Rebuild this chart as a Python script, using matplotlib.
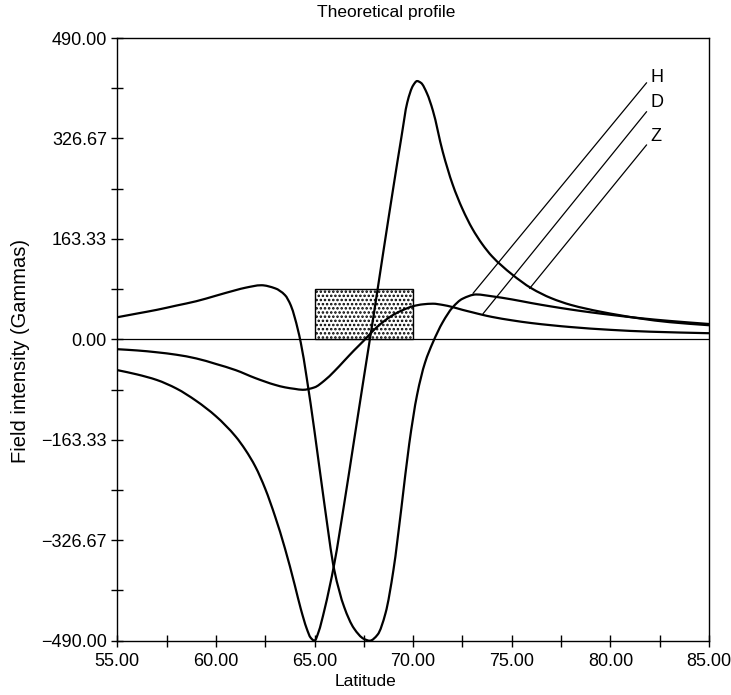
import matplotlib
matplotlib.use("Agg")
import numpy as np
import matplotlib.pyplot as plt
from matplotlib.patches import Rectangle, PathPatch
from matplotlib.path import Path

plt.rcParams['font.family'] = ['Liberation Sans', 'DejaVu Sans']
plt.rcParams['hatch.linewidth'] = 1.2

# ---------------- data ----------------
z_lat = [55, 56, 57, 58, 59, 60, 61, 61.5, 62, 62.5, 63, 63.5, 64, 64.3, 64.6, 64.8,
         65.0, 65.2, 65.5, 66.0, 66.5, 67.0, 67.5, 68.0, 68.5, 69.0, 69.4, 69.7, 70.0,
         70.2, 70.4, 70.7, 71.0, 71.5, 72.0, 72.5, 73.0, 73.5, 74.0, 75.0, 76.0, 77.0,
         78.0, 79.5, 81.5, 83.0, 85.0]
z_val = [-50, -57, -66, -80, -100, -125, -158, -180, -207, -243, -288, -340, -400, -438,
         -470, -485, -490, -476, -440, -365, -268, -165, -62, 40, 145, 248, 328, 385, 413,
         420, 417, 400, 372, 305, 252, 212, 180, 155, 135, 106, 83, 67, 56, 45, 34, 28, 23]

h_lat = [55, 56, 57, 58, 59, 60, 61, 61.5, 62.3, 63, 63.5, 63.8, 64.0, 64.3, 64.6,
         65.0, 65.5, 66.0, 66.5, 67.0, 67.5, 67.8, 68.2, 68.6, 69.0, 69.4, 69.8, 70.2,
         70.6, 71.0, 71.5, 72.0, 72.5, 73.2, 74.0, 75.0, 76.0, 77.0, 78.0, 79.0,
         80.0, 81.5, 83.0, 85.0]
h_val = [36, 42, 48, 55, 62, 71, 80, 84, 88, 83, 72, 55, 35, -5, -62, -150, -268,
         -375, -435, -470, -487, -490, -480, -445, -375, -275, -170, -90, -38, -5, 28, 52,
         66, 73, 70, 65, 59, 53.5, 48.5, 44, 40, 34.5, 30, 25]

d_lat = [55, 56, 57, 58, 59, 60, 61, 62, 63, 63.5, 64.0, 64.4, 65.0, 65.5, 66.0, 66.5,
         67.0, 67.5, 68.0, 68.5, 69.0, 69.5, 70.0, 70.5, 71.0, 71.5, 72.0, 72.5, 73.0,
         73.5, 74.0, 75.0, 76.0, 77.0, 78.0, 80.0, 82.0, 85.0]
d_val = [-16, -18, -21, -25, -31, -40, -50, -63, -74, -78, -80.5, -82, -78, -67, -52, -35,
         -18, -2, 15, 29, 40, 48, 54, 57, 58, 56, 52.5, 48, 44, 40, 36.5, 31, 26.5, 23, 20,
         15.5, 12.5, 10]

# body (shaded rectangle)
body_lat = [65.0, 70.0]
body_top = 81.67

# labels with leader lines
label_names = ['H', 'D', 'Z']
leader_lat_start = [81.83, 81.83, 81.83]
leader_val_start = [417, 370, 316]
leader_lat_end = [73.04, 73.55, 75.91]
leader_val_end = [75, 42, 83]
label_val = [425, 385, 330]

x_major = [55, 60, 65, 70, 75, 80, 85]
x_minor = [57.5, 62.5, 67.5, 72.5, 77.5, 82.5]
y_major = [-490, -326.67, -163.33, 0, 163.33, 326.67, 490]
y_major_labels = ['\u2212490.00', '\u2212326.67', '\u2212163.33', '0.00', '163.33', '326.67', '490.00']
y_minor = [-408.33, -245, -81.67, 81.67, 245, 408.33]


def smooth_curve_path(x, y):
    """Monotone cubic (PCHIP-style) Bezier path running through every read point."""
    x = np.asarray(x, float)
    y = np.asarray(y, float)
    h = np.diff(x)
    delta = np.diff(y) / h
    n = len(x)
    d = np.zeros(n)
    d[0] = delta[0]
    d[-1] = delta[-1]
    for k in range(1, n - 1):
        if delta[k - 1] * delta[k] <= 0:
            d[k] = 0.0
        else:
            w1 = 2 * h[k] + h[k - 1]
            w2 = h[k] + 2 * h[k - 1]
            d[k] = (w1 + w2) / (w1 / delta[k - 1] + w2 / delta[k])
    verts = [(x[0], y[0])]
    codes = [Path.MOVETO]
    for k in range(n - 1):
        verts += [(x[k] + h[k] / 3, y[k] + d[k] * h[k] / 3),
                  (x[k + 1] - h[k] / 3, y[k + 1] - d[k + 1] * h[k] / 3),
                  (x[k + 1], y[k + 1])]
        codes += [Path.CURVE4] * 3
    return Path(verts, codes)


# ---------------- figure ----------------
fig = plt.figure(figsize=(7.31, 6.95), dpi=100)
ax = fig.add_axes([0.1605, 0.0781, 0.8094, 0.8672])
ax.set_xlim(55, 85)
ax.set_ylim(-490, 490)

ax.axhline(0, color='black', lw=0.9, zorder=1)
ax.add_patch(Rectangle((body_lat[0], 0), body_lat[1] - body_lat[0], body_top,
                       facecolor='white', edgecolor='black', hatch='....', lw=1.0, zorder=2))

for lat, val in [(z_lat, z_val), (h_lat, h_val), (d_lat, d_val)]:
    ax.add_patch(PathPatch(smooth_curve_path(lat, val), facecolor='none',
                           edgecolor='black', lw=1.6, zorder=3))

for name, x0, y0, x1, y1, ty in zip(label_names, leader_lat_start, leader_val_start,
                                     leader_lat_end, leader_val_end, label_val):
    ax.plot([x0, x1], [y0, y1], color='black', lw=0.9, zorder=3)
    ax.text(x0 + 0.2, ty, name, fontsize=13, ha='left', va='center')

ax.set_xticks(x_major)
ax.set_xticklabels(['%.2f' % v for v in x_major])
ax.set_xticks(x_minor, minor=True)
ax.set_yticks(y_major)
ax.set_yticklabels(y_major_labels)
ax.set_yticks(y_minor, minor=True)
ax.tick_params(which='both', direction='inout', length=8, width=1, labelsize=13,
               top=False, right=False)
ax.tick_params(axis='x', pad=4.5)
for s in ax.spines.values():
    s.set_linewidth(1.0)

ax.set_title('Theoretical profile', fontsize=12.5, pad=15, x=0.454)
ax.set_xlabel('Latitude', fontsize=12.5)
ax.xaxis.set_label_coords(0.4194, -0.056)
ax.set_ylabel('Field intensity (Gammas)', fontsize=14.5, labelpad=1)
ax.yaxis.set_label_coords(-0.148, 0.48)

fig.savefig('out.png', dpi=100)
